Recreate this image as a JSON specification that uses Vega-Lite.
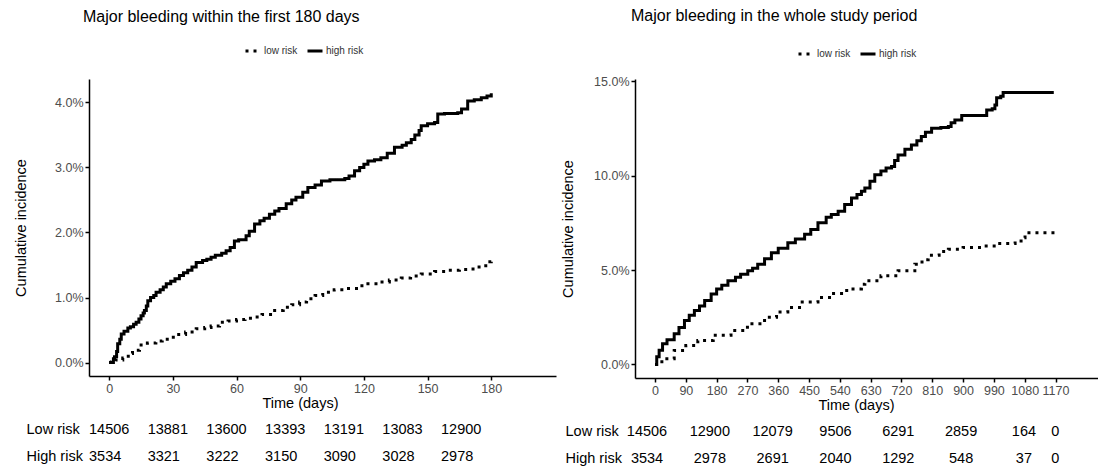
{
  "$schema": "https://vega.github.io/schema/vega-lite/v6.json",
  "background": "white",
  "padding": {"left": 13, "top": 8, "right": 0, "bottom": 0},
  "spacing": 4,
  "config": {
    "font": "Liberation Sans",
    "view": {"stroke": null},
    "axis": {"grid": false, "domainColor": "black", "domainWidth": 1.5, "tickColor": "black", "tickWidth": 1.5, "tickSize": 4, "labelColor": "#4d4d4d", "labelFontSize": 12.5, "labelPadding": 2, "titleColor": "black", "titleFontSize": 14.5, "titleFontWeight": "normal"},
    "title": {"fontSize": 16, "fontWeight": "normal", "color": "black", "anchor": "start", "frame": "group"},
    "legend": {"orient": "none", "direction": "horizontal", "title": null, "symbolType": "stroke", "symbolSize": 225, "symbolStrokeWidth": 3, "symbolStrokeColor": "black", "labelFontSize": 10, "labelColor": "#333333", "columnPadding": 3, "labelOffset": 2}
  },
  "datasets": {
    "first180": [
      {"risk":"high risk","time":0,"incidence":0},{"risk":"high risk","time":2,"incidence":0.0006},{"risk":"high risk","time":2.5,"incidence":0.0009},{"risk":"high risk","time":3.5,"incidence":0.0017},{"risk":"high risk","time":4,"incidence":0.0029},{"risk":"high risk","time":5,"incidence":0.0036},{"risk":"high risk","time":5.7,"incidence":0.0044},{"risk":"high risk","time":7,"incidence":0.0048},{"risk":"high risk","time":8.8,"incidence":0.0053},{"risk":"high risk","time":10,"incidence":0.0055},{"risk":"high risk","time":11.5,"incidence":0.0059},{"risk":"high risk","time":12.7,"incidence":0.0062},{"risk":"high risk","time":14,"incidence":0.0067},{"risk":"high risk","time":15,"incidence":0.0072},{"risk":"high risk","time":16,"incidence":0.0076},{"risk":"high risk","time":16.6,"incidence":0.008},{"risk":"high risk","time":17.5,"incidence":0.0087},{"risk":"high risk","time":18.2,"incidence":0.0095},{"risk":"high risk","time":19.5,"incidence":0.01},{"risk":"high risk","time":21,"incidence":0.0103},{"risk":"high risk","time":22.1,"incidence":0.0108},{"risk":"high risk","time":24,"incidence":0.0112},{"risk":"high risk","time":25.5,"incidence":0.0116},{"risk":"high risk","time":26.9,"incidence":0.0121},{"risk":"high risk","time":29,"incidence":0.0125},{"risk":"high risk","time":31,"incidence":0.0129},{"risk":"high risk","time":33.1,"incidence":0.0134},{"risk":"high risk","time":35,"incidence":0.0138},{"risk":"high risk","time":37,"incidence":0.0142},{"risk":"high risk","time":39,"incidence":0.0147},{"risk":"high risk","time":41,"incidence":0.0154},{"risk":"high risk","time":44,"incidence":0.0157},{"risk":"high risk","time":46,"incidence":0.0159},{"risk":"high risk","time":48,"incidence":0.0162},{"risk":"high risk","time":50,"incidence":0.0165},{"risk":"high risk","time":53,"incidence":0.0168},{"risk":"high risk","time":55.1,"incidence":0.0172},{"risk":"high risk","time":57,"incidence":0.0177},{"risk":"high risk","time":59,"incidence":0.0187},{"risk":"high risk","time":61,"incidence":0.0189},{"risk":"high risk","time":64.5,"incidence":0.0195},{"risk":"high risk","time":66,"incidence":0.0202},{"risk":"high risk","time":68.5,"incidence":0.0213},{"risk":"high risk","time":71,"incidence":0.0218},{"risk":"high risk","time":73,"incidence":0.0222},{"risk":"high risk","time":75.5,"incidence":0.0228},{"risk":"high risk","time":78,"incidence":0.0233},{"risk":"high risk","time":80,"incidence":0.0237},{"risk":"high risk","time":83.4,"incidence":0.0244},{"risk":"high risk","time":86,"incidence":0.025},{"risk":"high risk","time":88,"incidence":0.0254},{"risk":"high risk","time":91.2,"incidence":0.0262},{"risk":"high risk","time":93.6,"incidence":0.0269},{"risk":"high risk","time":97,"incidence":0.0273},{"risk":"high risk","time":100,"incidence":0.0279},{"risk":"high risk","time":104,"incidence":0.0281},{"risk":"high risk","time":111,"incidence":0.0283},{"risk":"high risk","time":113,"incidence":0.0287},{"risk":"high risk","time":115.6,"incidence":0.0295},{"risk":"high risk","time":118,"incidence":0.03},{"risk":"high risk","time":120,"incidence":0.0305},{"risk":"high risk","time":121.9,"incidence":0.031},{"risk":"high risk","time":125,"incidence":0.0312},{"risk":"high risk","time":128,"incidence":0.0315},{"risk":"high risk","time":131,"incidence":0.0322},{"risk":"high risk","time":134.4,"incidence":0.0331},{"risk":"high risk","time":138,"incidence":0.0334},{"risk":"high risk","time":140,"incidence":0.0338},{"risk":"high risk","time":142.3,"incidence":0.0343},{"risk":"high risk","time":144,"incidence":0.035},{"risk":"high risk","time":146,"incidence":0.0357},{"risk":"high risk","time":147,"incidence":0.0364},{"risk":"high risk","time":150,"incidence":0.0367},{"risk":"high risk","time":153.3,"incidence":0.0369},{"risk":"high risk","time":154.8,"incidence":0.0382},{"risk":"high risk","time":158,"incidence":0.0383},{"risk":"high risk","time":164.2,"incidence":0.0384},{"risk":"high risk","time":166,"incidence":0.039},{"risk":"high risk","time":168.9,"incidence":0.0402},{"risk":"high risk","time":172,"incidence":0.0404},{"risk":"high risk","time":175.3,"incidence":0.0407},{"risk":"high risk","time":178,"incidence":0.041},{"risk":"high risk","time":180,"incidence":0.0414},
      {"risk":"low risk","time":0,"incidence":0},{"risk":"low risk","time":1,"incidence":0.0001},{"risk":"low risk","time":3,"incidence":0.0004},{"risk":"low risk","time":6.4,"incidence":0.0007},{"risk":"low risk","time":9,"incidence":0.0014},{"risk":"low risk","time":11,"incidence":0.0019},{"risk":"low risk","time":14.3,"incidence":0.0027},{"risk":"low risk","time":18,"incidence":0.003},{"risk":"low risk","time":22,"incidence":0.0033},{"risk":"low risk","time":25,"incidence":0.0036},{"risk":"low risk","time":28.4,"incidence":0.0039},{"risk":"low risk","time":32,"incidence":0.0043},{"risk":"low risk","time":36,"incidence":0.0047},{"risk":"low risk","time":41,"incidence":0.0052},{"risk":"low risk","time":45,"incidence":0.0054},{"risk":"low risk","time":48,"incidence":0.0056},{"risk":"low risk","time":52,"incidence":0.0062},{"risk":"low risk","time":56,"incidence":0.0064},{"risk":"low risk","time":60,"incidence":0.0066},{"risk":"low risk","time":64,"incidence":0.0068},{"risk":"low risk","time":67.7,"incidence":0.007},{"risk":"low risk","time":72,"incidence":0.0074},{"risk":"low risk","time":77.1,"incidence":0.008},{"risk":"low risk","time":82,"incidence":0.0085},{"risk":"low risk","time":86,"incidence":0.0089},{"risk":"low risk","time":89.7,"incidence":0.0093},{"risk":"low risk","time":93,"incidence":0.0098},{"risk":"low risk","time":97,"incidence":0.0103},{"risk":"low risk","time":100.6,"incidence":0.0108},{"risk":"low risk","time":106,"incidence":0.0112},{"risk":"low risk","time":112,"incidence":0.0114},{"risk":"low risk","time":118,"incidence":0.0118},{"risk":"low risk","time":121.9,"incidence":0.0121},{"risk":"low risk","time":127,"incidence":0.0124},{"risk":"low risk","time":132,"incidence":0.0127},{"risk":"low risk","time":137.6,"incidence":0.013},{"risk":"low risk","time":142,"incidence":0.0133},{"risk":"low risk","time":147,"incidence":0.0136},{"risk":"low risk","time":153.3,"incidence":0.014},{"risk":"low risk","time":160,"incidence":0.0142},{"risk":"low risk","time":165,"incidence":0.0143},{"risk":"low risk","time":169,"incidence":0.0144},{"risk":"low risk","time":173,"incidence":0.0147},{"risk":"low risk","time":175.3,"incidence":0.0149},{"risk":"low risk","time":178.3,"incidence":0.0155},{"risk":"low risk","time":180,"incidence":0.0156}
    ],
    "whole": [
      {"risk":"high risk","time":0,"incidence":0},{"risk":"high risk","time":5,"incidence":0.004},{"risk":"high risk","time":12,"incidence":0.0075},{"risk":"high risk","time":22,"incidence":0.0109},{"risk":"high risk","time":35,"incidence":0.013},{"risk":"high risk","time":56,"incidence":0.0162},{"risk":"high risk","time":70,"incidence":0.0195},{"risk":"high risk","time":86,"incidence":0.0232},{"risk":"high risk","time":100,"incidence":0.026},{"risk":"high risk","time":115,"incidence":0.0285},{"risk":"high risk","time":130,"incidence":0.031},{"risk":"high risk","time":145,"incidence":0.0338},{"risk":"high risk","time":164,"incidence":0.0373},{"risk":"high risk","time":180,"incidence":0.04},{"risk":"high risk","time":195,"incidence":0.042},{"risk":"high risk","time":213,"incidence":0.0443},{"risk":"high risk","time":235,"incidence":0.0462},{"risk":"high risk","time":250,"incidence":0.0478},{"risk":"high risk","time":271,"incidence":0.0496},{"risk":"high risk","time":285,"incidence":0.051},{"risk":"high risk","time":300,"incidence":0.0531},{"risk":"high risk","time":320,"incidence":0.056},{"risk":"high risk","time":340,"incidence":0.0592},{"risk":"high risk","time":360,"incidence":0.0615},{"risk":"high risk","time":388,"incidence":0.0645},{"risk":"high risk","time":410,"incidence":0.0665},{"risk":"high risk","time":437,"incidence":0.0689},{"risk":"high risk","time":455,"incidence":0.0715},{"risk":"high risk","time":476,"incidence":0.075},{"risk":"high risk","time":500,"incidence":0.078},{"risk":"high risk","time":515,"incidence":0.0794},{"risk":"high risk","time":535,"incidence":0.0812},{"risk":"high risk","time":554,"incidence":0.0847},{"risk":"high risk","time":574,"incidence":0.0882},{"risk":"high risk","time":590,"incidence":0.09},{"risk":"high risk","time":603,"incidence":0.0917},{"risk":"high risk","time":613,"incidence":0.0935},{"risk":"high risk","time":628,"incidence":0.097},{"risk":"high risk","time":642,"incidence":0.1005},{"risk":"high risk","time":660,"incidence":0.1025},{"risk":"high risk","time":675,"incidence":0.104},{"risk":"high risk","time":691,"incidence":0.1049},{"risk":"high risk","time":700,"incidence":0.108},{"risk":"high risk","time":710,"incidence":0.111},{"risk":"high risk","time":730,"incidence":0.114},{"risk":"high risk","time":749,"incidence":0.1163},{"risk":"high risk","time":765,"incidence":0.1185},{"risk":"high risk","time":778,"incidence":0.1207},{"risk":"high risk","time":790,"incidence":0.123},{"risk":"high risk","time":808,"incidence":0.1251},{"risk":"high risk","time":835,"incidence":0.1255},{"risk":"high risk","time":857,"incidence":0.126},{"risk":"high risk","time":865,"incidence":0.128},{"risk":"high risk","time":876,"incidence":0.1295},{"risk":"high risk","time":896,"incidence":0.1318},{"risk":"high risk","time":954,"incidence":0.1318},{"risk":"high risk","time":969,"incidence":0.1348},{"risk":"high risk","time":985,"incidence":0.1355},{"risk":"high risk","time":993,"incidence":0.1374},{"risk":"high risk","time":998,"incidence":0.1413},{"risk":"high risk","time":1010,"incidence":0.142},{"risk":"high risk","time":1017,"incidence":0.1441},{"risk":"high risk","time":1165,"incidence":0.1441},
      {"risk":"low risk","time":0,"incidence":0},{"risk":"low risk","time":20,"incidence":0.003},{"risk":"low risk","time":56,"incidence":0.0074},{"risk":"low risk","time":90,"incidence":0.01},{"risk":"low risk","time":125,"incidence":0.0127},{"risk":"low risk","time":170,"incidence":0.0155},{"risk":"low risk","time":222,"incidence":0.0179},{"risk":"low risk","time":270,"incidence":0.0215},{"risk":"low risk","time":320,"incidence":0.025},{"risk":"low risk","time":355,"incidence":0.0278},{"risk":"low risk","time":388,"incidence":0.0302},{"risk":"low risk","time":430,"incidence":0.033},{"risk":"low risk","time":476,"incidence":0.0355},{"risk":"low risk","time":515,"incidence":0.0376},{"risk":"low risk","time":560,"incidence":0.04},{"risk":"low risk","time":603,"incidence":0.0425},{"risk":"low risk","time":613,"incidence":0.0443},{"risk":"low risk","time":660,"incidence":0.047},{"risk":"low risk","time":710,"incidence":0.0496},{"risk":"low risk","time":759,"incidence":0.0531},{"risk":"low risk","time":780,"incidence":0.0555},{"risk":"low risk","time":798,"incidence":0.0578},{"risk":"low risk","time":830,"incidence":0.0598},{"risk":"low risk","time":857,"incidence":0.061},{"risk":"low risk","time":900,"incidence":0.062},{"risk":"low risk","time":954,"incidence":0.0627},{"risk":"low risk","time":1000,"incidence":0.064},{"risk":"low risk","time":1052,"incidence":0.0654},{"risk":"low risk","time":1076,"incidence":0.0671},{"risk":"low risk","time":1081,"incidence":0.0697},{"risk":"low risk","time":1169,"incidence":0.0697}
    ],
    "table180": [
      {"group":"Low risk","time":0,"n":14506},{"group":"Low risk","time":30,"n":13881},{"group":"Low risk","time":60,"n":13600},{"group":"Low risk","time":90,"n":13393},{"group":"Low risk","time":120,"n":13191},{"group":"Low risk","time":150,"n":13083},{"group":"Low risk","time":180,"n":12900},
      {"group":"High risk","time":0,"n":3534},{"group":"High risk","time":30,"n":3321},{"group":"High risk","time":60,"n":3222},{"group":"High risk","time":90,"n":3150},{"group":"High risk","time":120,"n":3090},{"group":"High risk","time":150,"n":3028},{"group":"High risk","time":180,"n":2978}
    ],
    "tableWhole": [
      {"group":"Low risk","time":0,"n":14506},{"group":"Low risk","time":180,"n":12900},{"group":"Low risk","time":360,"n":12079},{"group":"Low risk","time":540,"n":9506},{"group":"Low risk","time":720,"n":6291},{"group":"Low risk","time":900,"n":2859},{"group":"Low risk","time":1080,"n":164},{"group":"Low risk","time":1170,"n":0},
      {"group":"High risk","time":0,"n":3534},{"group":"High risk","time":180,"n":2978},{"group":"High risk","time":360,"n":2691},{"group":"High risk","time":540,"n":2040},{"group":"High risk","time":720,"n":1292},{"group":"High risk","time":900,"n":548},{"group":"High risk","time":1080,"n":37},{"group":"High risk","time":1170,"n":0}
    ]
  },
  "hconcat": [
    {
      "spacing": 6,
      "vconcat": [
        {
          "title": {"text": "Major bleeding within the first 180 days", "offset": 54, "dx": -6},
          "width": 467,
          "height": 297,
          "data": {"name": "first180"},
          "mark": {"type": "line", "interpolate": "step-after", "color": "black", "strokeWidth": 3, "strokeCap": "butt"},
          "encoding": {
            "x": {"field": "time", "type": "quantitative", "scale": {"domain": [-9.5, 210.5], "nice": false, "zero": false}, "axis": {"values": [0, 30, 60, 90, 120, 150, 180], "format": "d", "title": "Time (days)", "titleX": 211, "titlePadding": 2}},
            "y": {"field": "incidence", "type": "quantitative", "scale": {"domain": [-0.00207, 0.0436], "nice": false, "zero": false}, "axis": {"values": [0, 0.01, 0.02, 0.03, 0.04], "format": ".1%", "title": "Cumulative incidence", "titlePadding": 26}},
            "strokeDash": {"field": "risk", "type": "nominal", "scale": {"domain": ["low risk", "high risk"], "range": [[3, 5], [1, 0]]}, "legend": {"legendX": 155, "legendY": -37}}
          }
        },
        {
          "width": 467,
          "height": 54,
          "data": {"name": "table180"},
          "mark": {"type": "text", "align": "left", "baseline": "middle", "fontSize": 14.5, "color": "black"},
          "encoding": {
            "x": {"field": "time", "type": "quantitative", "scale": {"domain": [0, 238.8], "nice": false, "zero": false}, "axis": null},
            "y": {"field": "group", "type": "nominal", "sort": ["Low risk", "High risk"], "scale": {"paddingInner": 0, "paddingOuter": 0}, "axis": {"title": null, "domain": false, "ticks": false, "labelAlign": "left", "labelPadding": 63, "labelFontSize": 14.5, "labelColor": "black"}},
            "text": {"field": "n", "type": "nominal"}
          }
        }
      ]
    },
    {
      "spacing": 6,
      "vconcat": [
        {
          "title": {"text": "Major bleeding in the whole study period", "offset": 51, "dx": -4},
          "width": 465,
          "height": 299,
          "data": {"name": "whole"},
          "mark": {"type": "line", "interpolate": "step-after", "color": "black", "strokeWidth": 3, "strokeCap": "butt"},
          "encoding": {
            "x": {"field": "time", "type": "quantitative", "scale": {"domain": [-58.5, 1300], "nice": false, "zero": false}, "axis": {"values": [0, 90, 180, 270, 360, 450, 540, 630, 720, 810, 900, 990, 1080, 1170], "format": "d", "title": "Time (days)", "titleX": 221, "titlePadding": 2}},
            "y": {"field": "incidence", "type": "quantitative", "scale": {"domain": [-0.0072, 0.1512], "nice": false, "zero": false}, "axis": {"values": [0, 0.05, 0.1, 0.15], "format": ".1%", "title": "Cumulative incidence", "titlePadding": 18}},
            "strokeDash": {"field": "risk", "type": "nominal", "scale": {"domain": ["low risk", "high risk"], "range": [[3, 5], [1, 0]]}, "legend": {"legendX": 162, "legendY": -34}}
          }
        },
        {
          "width": 465,
          "height": 54,
          "data": {"name": "tableWhole"},
          "mark": {"type": "text", "align": "center", "baseline": "middle", "fontSize": 14.5, "color": "black"},
          "encoding": {
            "x": {"field": "time", "type": "quantitative", "scale": {"domain": [-34.4, 1298], "nice": false, "zero": false}, "axis": null},
            "y": {"field": "group", "type": "nominal", "sort": ["Low risk", "High risk"], "scale": {"paddingInner": 0, "paddingOuter": 0}, "axis": {"title": null, "domain": false, "ticks": false, "labelAlign": "left", "labelPadding": 70, "labelFontSize": 14.5, "labelColor": "black"}},
            "text": {"field": "n", "type": "nominal"}
          }
        }
      ]
    }
  ],
  "resolve": {"scale": {"x": "independent", "y": "independent", "strokeDash": "independent"}}
}
